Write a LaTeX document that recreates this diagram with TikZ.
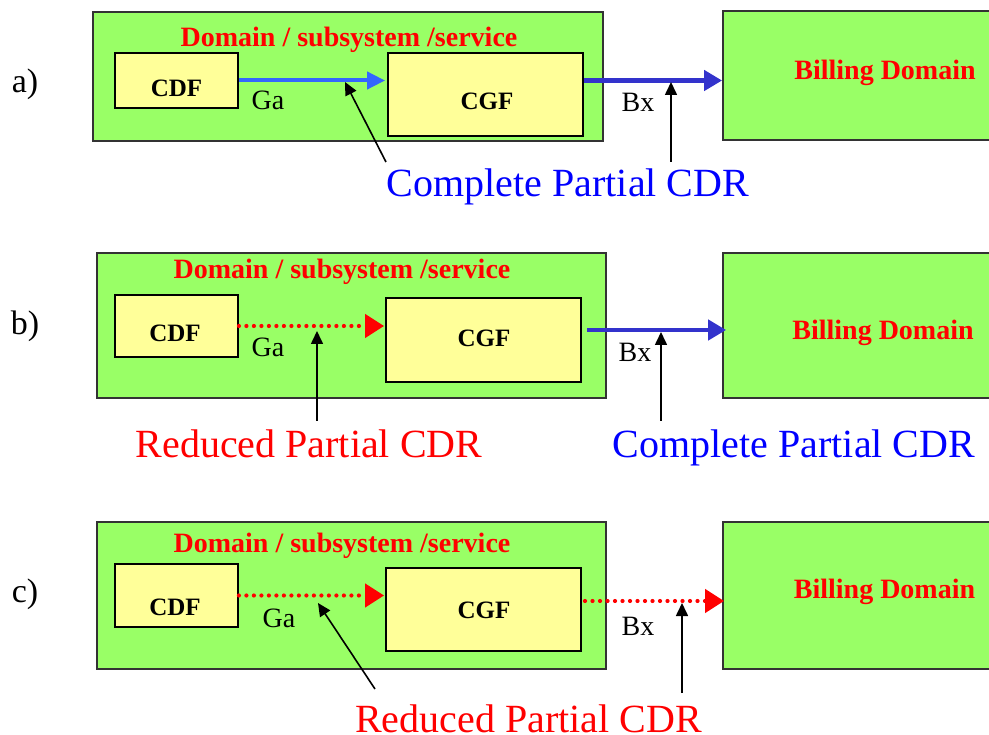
\documentclass[tikz,border=0pt]{standalone}
\usepackage{fontspec}
\setmainfont{Liberation Serif}
\usetikzlibrary{arrows.meta}
\definecolor{dgreen}{HTML}{99FF66}
\definecolor{lyellow}{HTML}{FFFF99}
\definecolor{gablue}{HTML}{3366FF}
\definecolor{bxblue}{HTML}{3333CC}
\definecolor{bordergray}{HTML}{333333}
\tikzset{
  domainbox/.style={draw=bordergray, line width=1.8pt, fill=dgreen, inner sep=0pt},
  funcbox/.style={draw=black, line width=1.8pt, fill=lyellow, inner sep=0pt},
  boxlbl/.style={anchor=base, font=\fontsize{25}{27}\selectfont\bfseries},
  titlelbl/.style={anchor=base, text=red, font=\fontsize{28}{30}\selectfont\bfseries},
  ifacelbl/.style={anchor=base, font=\fontsize{28}{30}\selectfont},
  cdrlbl/.style={anchor=base, inner sep=0pt, font=\fontsize{40}{42}\selectfont},
  rowlbl/.style={anchor=base, font=\fontsize{34}{36}\selectfont},
  solidga/.style={gablue, line width=4pt, -{Triangle[length=18pt,width=17pt]}},
  solidbx/.style={bxblue, line width=4.5pt, -{Triangle[length=18pt,width=20pt]}},
  dottedred/.style={red, line width=4.2pt, dash pattern=on 0pt off 7.5pt, line cap=round, -{Triangle[length=19pt,width=23pt]}},
  pointer/.style={black, line width=1.6pt, -{Triangle[length=13pt,width=12pt]}},
}
\begin{document}
\begin{tikzpicture}[x=1pt,y=-1pt]
\useasboundingbox (0,0) rectangle (989,735);

% ---------------- row a ----------------
\node[rowlbl] (lblA) at (25,93) {a)};
\node[domainbox, minimum width=510pt, minimum height=129pt] (domA) at (348,76.5) {};
\node[domainbox, minimum width=280pt, minimum height=129pt] (billA) at (863,75.5) {};
\node[titlelbl] (titleA) at (349,47) {Domain / subsystem /service};
\node[funcbox, minimum width=123pt, minimum height=55pt] (cdfA) at (176.5,80.5) {};
\node[funcbox, minimum width=195pt, minimum height=83pt] (cgfA) at (485.5,94.5) {};
\node[boxlbl] (cdfAt) at (176.5,97) {CDF};
\node[boxlbl] (cgfAt) at (487,110) {CGF};
\node[titlelbl] (billAt) at (885,80) {Billing Domain};
\draw[solidga] (cdfA.east) -- ([xshift=-2pt]cdfA.east -| cgfA.west);
\draw[solidbx] (cdfA.east -| cgfA.east) -- (cdfA.east -| billA.west);
\node[ifacelbl] (gaA) at (268,110) {Ga};
\node[ifacelbl] (bxA) at (638,112) {Bx};
\node[cdrlbl, text=blue] (cdrA) at (568,197) {Complete Partial CDR};
\coordinate (pA1t) at (386,162);
\coordinate (pA1h) at (345,82);
\coordinate (pA2t) at (671,162);
\coordinate (pA2h) at (671,82);
\draw[pointer] (pA1t) -- (pA1h);
\draw[pointer] (pA2t) -- (pA2h);

% ---------------- row b ----------------
\node[rowlbl] (lblB) at (25,335) {b)};
\node[domainbox, minimum width=509pt, minimum height=145pt] (domB) at (351.5,325.5) {};
\node[domainbox, minimum width=280pt, minimum height=145pt] (billB) at (863,325.5) {};
\node[titlelbl] (titleB) at (342,279) {Domain / subsystem /service};
\node[funcbox, minimum width=123pt, minimum height=62pt] (cdfB) at (176.5,326) {};
\node[funcbox, minimum width=195pt, minimum height=84pt] (cgfB) at (483.5,340) {};
\node[boxlbl] (cdfBt) at (175,342) {CDF};
\node[boxlbl] (cgfBt) at (484,347) {CGF};
\node[titlelbl] (billBt) at (883,340) {Billing Domain};
\draw[dottedred] (cdfB.east) -- ([xshift=-1pt]cdfB.east -| cgfB.west);
\coordinate (bxBs) at (587,330);
\draw[solidbx] (bxBs) -- ([xshift=4pt]bxBs -| billB.west);
\node[ifacelbl] (gaB) at (268,357) {Ga};
\node[ifacelbl] (bxB) at (635,362) {Bx};
\node[cdrlbl, text=red] (cdrB1) at (309,458) {Reduced Partial CDR};
\node[cdrlbl, text=blue] (cdrB2) at (794,458) {Complete Partial CDR};
\coordinate (pB1t) at (317,421);
\coordinate (pB1h) at (317,331);
\coordinate (pB2t) at (661,421);
\coordinate (pB2h) at (661,332);
\draw[pointer] (pB1t) -- (pB1h);
\draw[pointer] (pB2t) -- (pB2h);

% ---------------- row c ----------------
\node[rowlbl] (lblC) at (25,602) {c)};
\node[domainbox, minimum width=509pt, minimum height=147pt] (domC) at (351.5,595.5) {};
\node[domainbox, minimum width=280pt, minimum height=147pt] (billC) at (863,595.5) {};
\node[titlelbl] (titleC) at (342,552) {Domain / subsystem /service};
\node[funcbox, minimum width=123pt, minimum height=63pt] (cdfC) at (176.5,595.5) {};
\node[funcbox, minimum width=195pt, minimum height=83pt] (cgfC) at (483.5,609.5) {};
\node[boxlbl] (cdfCt) at (175,615) {CDF};
\node[boxlbl] (cgfCt) at (484,618) {CGF};
\node[titlelbl] (billCt) at (884.5,598) {Billing Domain};
\draw[dottedred] (cdfC.east) -- ([xshift=-1pt]cdfC.east -| cgfC.west);
\coordinate (bxCs) at (585,601);
\draw[dottedred] (bxCs) -- ([xshift=2pt]bxCs -| billC.west);
\node[ifacelbl] (gaC) at (279,627) {Ga};
\node[ifacelbl] (bxC) at (638,635) {Bx};
\node[cdrlbl, text=red] (cdrC) at (528.5,732) {Reduced Partial CDR};
\coordinate (pC1t) at (375,689);
\coordinate (pC1h) at (318,603);
\coordinate (pC2t) at (682,693);
\coordinate (pC2h) at (682,603);
\draw[pointer] (pC1t) -- (pC1h);
\draw[pointer] (pC2t) -- (pC2h);
\end{tikzpicture}
\end{document}
